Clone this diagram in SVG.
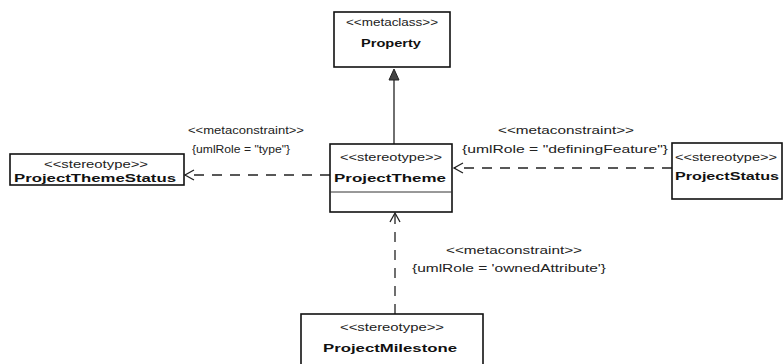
<svg xmlns="http://www.w3.org/2000/svg" width="783" height="364" viewBox="0 0 783 364">
<style>
.box{fill:#fff;stroke:#111;stroke-width:1.6}
.st{font-family:"Liberation Sans",Arial,sans-serif;font-size:10px;fill:#222;text-anchor:middle}
.nm{font-family:"Liberation Sans",Arial,sans-serif;font-size:11px;font-weight:bold;fill:#111;text-anchor:middle}
.lb{font-family:"Liberation Sans",Arial,sans-serif;font-size:10px;fill:#222;text-anchor:middle}
.dash{fill:none;stroke:#222;stroke-width:1.3;stroke-dasharray:10 8}
.solid{fill:none;stroke:#222;stroke-width:1.3}
</style>
<rect width="783" height="364" fill="#fff"/>
<g id="connectors">
  <line class="solid" x1="394" y1="144" x2="394" y2="79"/>
  <polygon points="394,69 389,80 399,80" fill="#444" stroke="#222" stroke-width="1"/>
  <line class="dash" x1="330" y1="175" x2="185" y2="175"/>
  <polyline class="solid" points="194,170 185,175 194,180"/>
  <line class="dash" x1="672" y1="168" x2="454" y2="168"/>
  <polyline class="solid" points="463,163 454,168 463,173"/>
  <line class="dash" x1="395" y1="314" x2="395" y2="213"/>
  <polyline class="solid" points="390,222 395,213 400,222"/>
  <text class="lb" x="246" y="134" textLength="116" lengthAdjust="spacingAndGlyphs">&lt;&lt;metaconstraint&gt;&gt;</text>
  <text class="lb" x="241" y="153" textLength="98" lengthAdjust="spacingAndGlyphs">{umlRole = "type"}</text>
  <text class="lb" x="566" y="134" textLength="136" lengthAdjust="spacingAndGlyphs">&lt;&lt;metaconstraint&gt;&gt;</text>
  <text class="lb" x="565" y="153" textLength="206" lengthAdjust="spacingAndGlyphs">{umlRole = "definingFeature"}</text>
  <text class="lb" x="514" y="254" textLength="136" lengthAdjust="spacingAndGlyphs">&lt;&lt;metaconstraint&gt;&gt;</text>
  <text class="lb" x="509" y="272" textLength="194" lengthAdjust="spacingAndGlyphs">{umlRole = 'ownedAttribute'}</text>
</g>
<g id="Property">
  <rect class="box" x="334" y="12" width="116" height="55"/>
  <text class="st" x="392" y="26" textLength="92" lengthAdjust="spacingAndGlyphs">&lt;&lt;metaclass&gt;&gt;</text>
  <text class="nm" x="391" y="47" textLength="60" lengthAdjust="spacingAndGlyphs">Property</text>
</g>
<g id="ProjectTheme">
  <rect class="box" x="330" y="144" width="122" height="68"/>
  <line x1="330" y1="192" x2="452" y2="192" stroke="#333" stroke-width="1"/>
  <text class="st" x="391" y="161" textLength="102" lengthAdjust="spacingAndGlyphs">&lt;&lt;stereotype&gt;&gt;</text>
  <text class="nm" x="390" y="182" textLength="112" lengthAdjust="spacingAndGlyphs">ProjectTheme</text>
</g>
<g id="ProjectThemeStatus">
  <rect class="box" x="10" y="154" width="174" height="31"/>
  <text class="st" x="96" y="168" textLength="104" lengthAdjust="spacingAndGlyphs">&lt;&lt;stereotype&gt;&gt;</text>
  <text class="nm" x="95" y="182" textLength="162" lengthAdjust="spacingAndGlyphs">ProjectThemeStatus</text>
</g>
<g id="ProjectStatus">
  <rect class="box" x="672" y="143" width="110" height="56"/>
  <text class="st" x="726" y="161" textLength="102" lengthAdjust="spacingAndGlyphs">&lt;&lt;stereotype&gt;&gt;</text>
  <text class="nm" x="727" y="180" textLength="104" lengthAdjust="spacingAndGlyphs">ProjectStatus</text>
</g>
<g id="ProjectMilestone">
  <rect class="box" x="301" y="314" width="182" height="60"/>
  <text class="st" x="392" y="331" textLength="104" lengthAdjust="spacingAndGlyphs">&lt;&lt;stereotype&gt;&gt;</text>
  <text class="nm" x="390" y="352" textLength="134" lengthAdjust="spacingAndGlyphs">ProjectMilestone</text>
</g>
</svg>
